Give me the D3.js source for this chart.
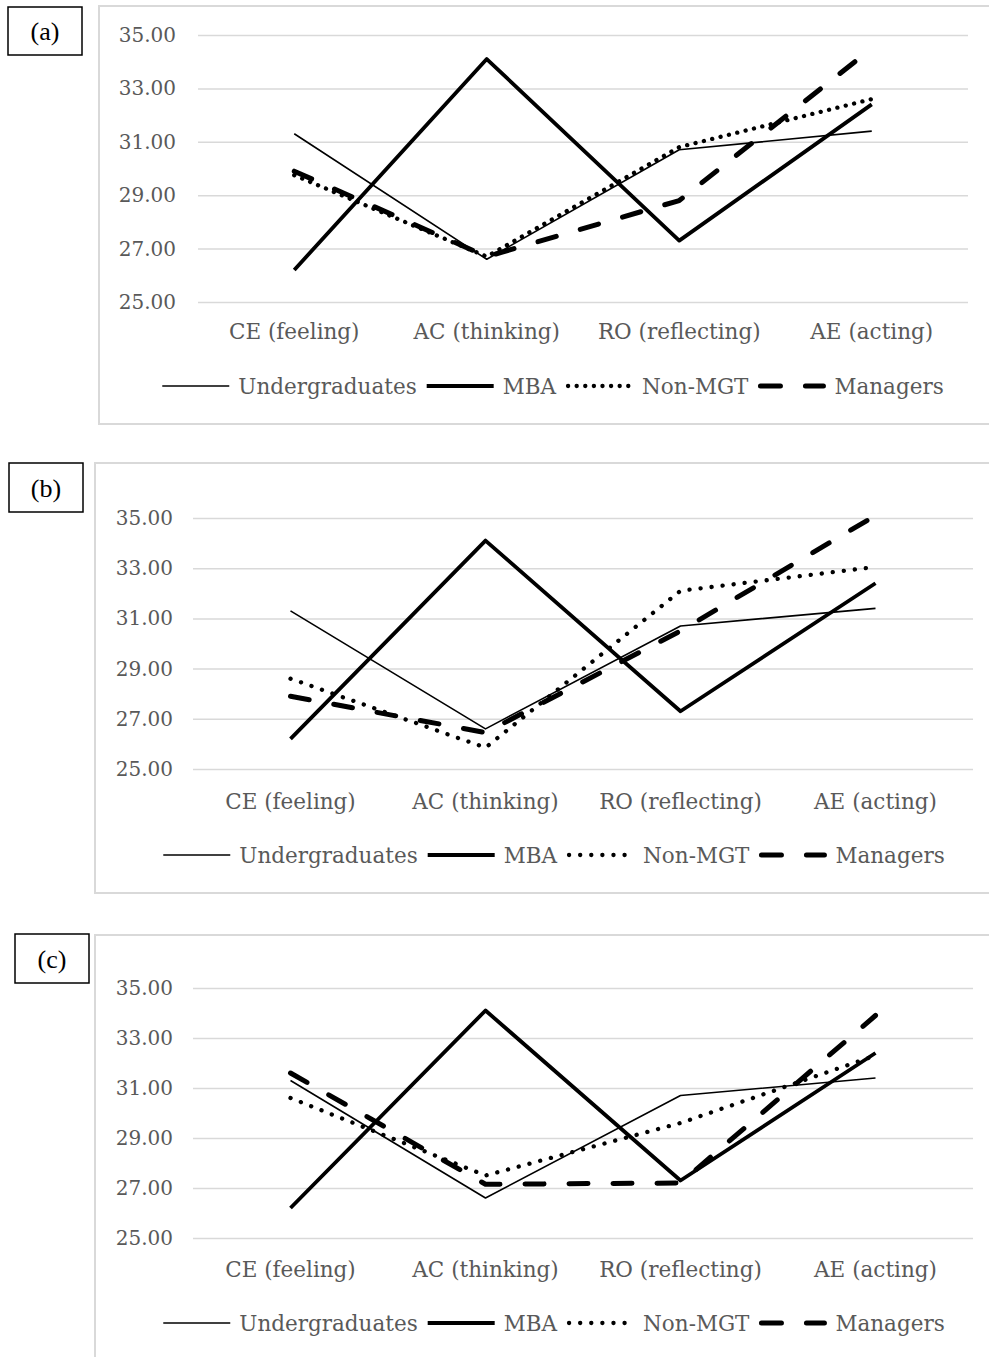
<!DOCTYPE html>
<html>
<head>
<meta charset="utf-8">
<script src="https://cdn.jsdelivr.net/npm/d3@7"></script>
<style>
  body { margin: 0; background: #fff; }
  svg { display: block; }
</style>
</head>
<body>
<svg id="chart" width="989" height="1357"></svg>
<script>
// categories and series
const categories = ['CE (feeling)', 'AC (thinking)', 'RO (reflecting)', 'AE (acting)']
const yTicks = [25, 27, 29, 31, 33, 35]
const seriesNames = ['Undergraduates', 'MBA', 'Non-MGT', 'Managers']

const undergrads = [31.3, 26.6, 30.7, 31.4]
const mba = [26.2, 34.1, 27.3, 32.4]

const nonMgtA = [29.75, 26.7, 30.8, 32.6]
const managersA = [29.9, 26.7, 28.8, 34.5]

const nonMgtB = [28.6, 25.85, 32.1, 33.05]
const managersB = [27.9, 26.45, 30.5, 35.1]

const nonMgtC = [30.6, 27.5, 29.6, 32.3]
const managersC = [31.6, 27.15, 27.2, 33.9]

// layout of each panel
const panels = [
    { tag: '(a)', sets: [undergrads, mba, nonMgtA, managersA],
      frame: [99, 6, 900, 418], box: [8, 7, 74, 48],
      x0: 198, x1: 968, yTop: 35, yBot: 302, tickX: 176, catY: 331, legY: 386, legCx: 553, dots: '0.1 8.5' },
    { tag: '(b)', sets: [undergrads, mba, nonMgtB, managersB],
      frame: [95, 463, 904, 430], box: [9, 463, 74, 49],
      x0: 193, x1: 973, yTop: 518, yBot: 769, tickX: 173, catY: 801, legY: 855, legCx: 554, dots: '0.1 11' },
    { tag: '(c)', sets: [undergrads, mba, nonMgtC, managersC],
      frame: [95, 935, 904, 440], box: [15, 934, 74, 49],
      x0: 193, x1: 973, yTop: 988, yBot: 1238, tickX: 173, catY: 1269, legY: 1323, legCx: 554, dots: '0.1 11' }
]

const svg = d3.select('#chart')
const textFont = '"DejaVu Serif", serif'
const grey = '#595959'

const lineStyle = (i, p) => {
    switch (i) {
        case 0: return { w: 1.6, dash: null }
        case 1: return { w: 3.8, dash: null }
        case 2: return { w: 4.3, dash: p.dots }
        default: return { w: 5, dash: '19 25' }
    }
}

panels.forEach((p) => {
    const g = svg.append('g')

    // chart area frame
    g.append('rect')
        .attr('x', p.frame[0]).attr('y', p.frame[1])
        .attr('width', p.frame[2]).attr('height', p.frame[3])
        .attr('fill', 'none').attr('stroke', '#d9d9d9').attr('stroke-width', 2)

    // panel tag box
    g.append('rect')
        .attr('x', p.box[0]).attr('y', p.box[1])
        .attr('width', p.box[2]).attr('height', p.box[3])
        .attr('fill', '#fff').attr('stroke', '#000').attr('stroke-width', 1.5)
    g.append('text')
        .attr('x', p.box[0] + p.box[2] / 2).attr('y', p.box[1] + p.box[3] / 2)
        .attr('dy', '0.35em').attr('text-anchor', 'middle')
        .style('font-family', '"Liberation Serif", "Times New Roman", serif')
        .style('font-size', '26px').text(p.tag)

    const x = d3.scaleBand().domain(categories).range([p.x0, p.x1]).padding(0)
    const y = d3.scaleLinear().domain([25, 35]).range([p.yBot, p.yTop])

    // gridlines + y labels
    const yAxis = d3.axisLeft(y).tickValues(yTicks)
        .tickSize(-(p.x1 - p.x0)).tickPadding(p.x0 - p.tickX)
        .tickFormat(d3.format('.2f'))
    const ya = g.append('g').attr('transform', `translate(${p.x0},0)`).call(yAxis)
    ya.select('.domain').remove()
    ya.selectAll('line').attr('stroke', '#d9d9d9').attr('stroke-width', 1.5)
    ya.selectAll('text').attr('fill', grey)
        .style('font-family', textFont).style('font-size', '20px')

    // category labels
    const xAxis = d3.axisBottom(x).tickSize(0).tickPadding(0)
    const xa = g.append('g').attr('transform', `translate(0,${p.catY})`).call(xAxis)
    xa.select('.domain').remove()
    xa.selectAll('text').attr('fill', grey).attr('dy', '0.35em').attr('y', 0)
        .style('font-family', textFont).style('font-size', '21.5px')

    // series lines
    const line = d3.line()
        .x((d, i) => x(categories[i]) + x.bandwidth() / 2)
        .y(d => y(d))
    p.sets.forEach((vals, i) => {
        const st = lineStyle(i, p)
        g.append('path').datum(vals)
            .attr('d', line)
            .attr('fill', 'none').attr('stroke', '#000')
            .attr('stroke-width', st.w)
            .attr('stroke-linejoin', 'round')
            .attr('stroke-linecap', i >= 2 ? 'round' : 'butt')
            .attr('stroke-dasharray', st.dash)
    })

    // legend
    const leg = g.append('g')
    const items = seriesNames.map((name, i) => {
        const t = leg.append('text').text(name)
            .attr('fill', grey).attr('dy', '0.35em').attr('y', p.legY)
            .style('font-family', textFont).style('font-size', '21.5px')
        return { t, w: t.node().getComputedTextLength(), i }
    })
    const lineW = 67, gap1 = 9, gap2 = 10
    const total = d3.sum(items, d => lineW + gap1 + d.w) + gap2 * (items.length - 1)
    let cx = p.legCx - total / 2
    items.forEach((d) => {
        const st = lineStyle(d.i, p)
        let dash = st.dash
        if (d.i === 3) dash = '20 25'
        leg.append('line')
            .attr('x1', cx + (d.i >= 2 ? 2 : 0)).attr('x2', cx + lineW - (d.i >= 2 ? 2 : 0))
            .attr('y1', p.legY).attr('y2', p.legY)
            .attr('stroke', '#000').attr('stroke-width', st.w)
            .attr('stroke-linecap', d.i >= 2 ? 'round' : 'butt')
            .attr('stroke-dasharray', dash)
        d.t.attr('x', cx + lineW + gap1)
        cx += lineW + gap1 + d.w + gap2
    })
})
</script>
</body>
</html>
